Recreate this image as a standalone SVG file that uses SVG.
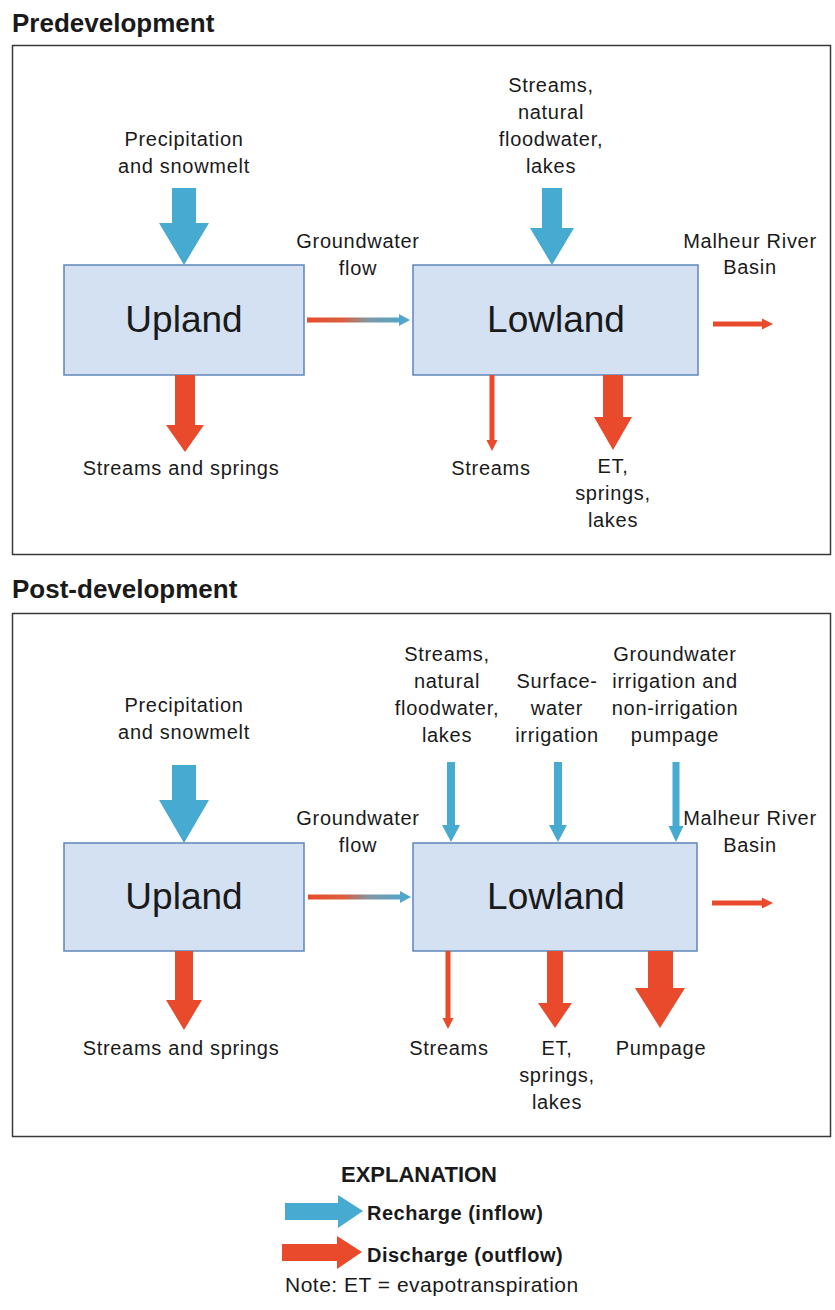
<svg xmlns="http://www.w3.org/2000/svg" width="835" height="1310" viewBox="0 0 835 1310">
<style>
.panel{fill:#fff;stroke:#3a3a3a;stroke-width:1.5}
.title{font-family:"Liberation Sans",Arial,sans-serif;font-weight:bold;font-size:26px;fill:#1a1a1a}
.lbl{font-family:"Liberation Sans",Arial,sans-serif;font-size:20px;letter-spacing:0.7px;fill:#1a1a1a;text-anchor:middle}
.box{fill:#d3e1f3;stroke:#5f86b8;stroke-width:1.5}
.boxt{font-family:"Liberation Sans",Arial,sans-serif;font-size:37px;fill:#1a1a1a;text-anchor:middle}
.in{fill:#47aad0}
.out{fill:#e84a2b}
.leg{font-family:"Liberation Sans",Arial,sans-serif;font-weight:bold;font-size:20px;letter-spacing:0.5px;fill:#1a1a1a}
</style>
<defs>
<linearGradient id="gw" x1="0" y1="0" x2="1" y2="0">
<stop offset="0" stop-color="#e84a2b"/>
<stop offset="0.35" stop-color="#d9603f"/>
<stop offset="0.6" stop-color="#7f98a6"/>
<stop offset="1" stop-color="#47aad0"/>
</linearGradient>
</defs>

<g id="predevelopment">
<text class="title" x="12" y="32">Predevelopment</text>
<rect class="panel" x="12.5" y="45.5" width="818" height="509"/>
</g>

<g id="post-development">
<text class="title" x="12" y="598">Post-development</text>
<rect class="panel" x="12.5" y="613.5" width="818" height="523"/>
</g>

<!-- Predevelopment nodes -->
<g id="pre-upland">
<rect class="box" x="64" y="265" width="240" height="110"/>
<text class="boxt" x="184" y="332">Upland</text>
</g>
<g id="pre-lowland">
<rect class="box" x="413" y="265" width="285" height="110"/>
<text class="boxt" x="556" y="332">Lowland</text>
</g>
<g id="pre-labels">
<text class="lbl" x="184" y="146">Precipitation</text>
<text class="lbl" x="184" y="173">and snowmelt</text>
<text class="lbl" x="551" y="92">Streams,</text>
<text class="lbl" x="551" y="119">natural</text>
<text class="lbl" x="551" y="146">floodwater,</text>
<text class="lbl" x="551" y="173">lakes</text>
<text class="lbl" x="358" y="248">Groundwater</text>
<text class="lbl" x="358" y="275">flow</text>
<text class="lbl" x="750" y="248">Malheur River</text>
<text class="lbl" x="750" y="274">Basin</text>
<text class="lbl" x="181" y="475">Streams and springs</text>
<text class="lbl" x="491" y="475">Streams</text>
<text class="lbl" x="613" y="473">ET,</text>
<text class="lbl" x="613" y="500">springs,</text>
<text class="lbl" x="613" y="527">lakes</text>
</g>

<!-- Post-development nodes -->
<g id="post-upland">
<rect class="box" x="64" y="843" width="240" height="108"/>
<text class="boxt" x="184" y="909">Upland</text>
</g>
<g id="post-lowland">
<rect class="box" x="413" y="843" width="284" height="108"/>
<text class="boxt" x="556" y="909">Lowland</text>
</g>
<g id="post-labels">
<text class="lbl" x="184" y="712">Precipitation</text>
<text class="lbl" x="184" y="739">and snowmelt</text>
<text class="lbl" x="447" y="661">Streams,</text>
<text class="lbl" x="447" y="688">natural</text>
<text class="lbl" x="447" y="715">floodwater,</text>
<text class="lbl" x="447" y="742">lakes</text>
<text class="lbl" x="557" y="688">Surface-</text>
<text class="lbl" x="557" y="715">water</text>
<text class="lbl" x="557" y="742">irrigation</text>
<text class="lbl" x="675" y="661">Groundwater</text>
<text class="lbl" x="675" y="688">irrigation and</text>
<text class="lbl" x="675" y="715">non-irrigation</text>
<text class="lbl" x="675" y="742">pumpage</text>
<text class="lbl" x="358" y="825">Groundwater</text>
<text class="lbl" x="358" y="852">flow</text>
<text class="lbl" x="750" y="825">Malheur River</text>
<text class="lbl" x="750" y="852">Basin</text>
<text class="lbl" x="181" y="1055">Streams and springs</text>
<text class="lbl" x="449" y="1055">Streams</text>
<text class="lbl" x="557" y="1055">ET,</text>
<text class="lbl" x="557" y="1082">springs,</text>
<text class="lbl" x="557" y="1109">lakes</text>
<text class="lbl" x="661" y="1055">Pumpage</text>
</g>

<g id="connectors">
<!-- Predevelopment -->
<polygon class="in" points="172,188 196,188 196,223 209,223 184,265 159,223 172,223"/>
<polygon class="in" points="542,188 562,188 562,228 574,228 552,265 530,228 542,228"/>
<polygon class="out" points="175,375 195,375 195,425 204,425 185,452 166,425 175,425"/>
<polygon class="out" points="489.5,375 494.5,375 494.5,440 497.5,440 492,451 486.5,440 489.5,440"/>
<polygon class="out" points="603,375 623,375 623,417 632,417 613,450 594,417 603,417"/>
<polygon fill="url(#gw)" points="307,317.5 399,317.5 399,314 410,320 399,326 399,322.5 307,322.5"/>
<polygon class="out" points="713,321.5 762,321.5 762,318.5 773,324 762,329.5 762,326.5 713,326.5"/>
<!-- Post-development -->
<polygon class="in" points="172,765 196,765 196,800 209,800 184,843 159,800 172,800"/>
<polygon class="in" points="447,762 455,762 455,825 460,825 451,842 442,825 447,825"/>
<polygon class="in" points="554,762 562,762 562,825 567,825 558,842 549,825 554,825"/>
<polygon class="in" points="672.5,762 679.5,762 679.5,826 683.5,826 676,842 668.5,826 672.5,826"/>
<polygon class="out" points="175,951 193,951 193,1000 202,1000 184,1030 166,1000 175,1000"/>
<polygon class="out" points="445.5,951 450.5,951 450.5,1018 453.5,1018 448,1029 442.5,1018 445.5,1018"/>
<polygon class="out" points="547,951 563,951 563,1003 572,1003 555,1028 538,1003 547,1003"/>
<polygon class="out" points="648,951 673,951 673,988 685,988 660,1028 635,988 648,988"/>
<polygon fill="url(#gw)" points="308,894.5 400,894.5 400,891 411,897 400,903 400,899.5 308,899.5"/>
<polygon class="out" points="712,900.5 762,900.5 762,897.5 773,903 762,908.5 762,905.5 712,905.5"/>
</g>

<g id="legend">
<text x="419" y="1182" text-anchor="middle" style="font-family:'Liberation Sans',Arial,sans-serif;font-weight:bold;font-size:22px;fill:#1a1a1a">EXPLANATION</text>
<polygon class="in" points="285,1203 338,1203 338,1195 363,1211 338,1228 338,1220 285,1220"/>
<text class="leg" x="367" y="1220">Recharge (inflow)</text>
<polygon class="out" points="282,1244 337,1244 337,1236 362,1252 337,1269 337,1261 282,1261"/>
<text class="leg" x="367" y="1262">Discharge (outflow)</text>
<text x="285" y="1292" style="font-family:'Liberation Sans',Arial,sans-serif;font-size:21px;letter-spacing:0.5px;fill:#1a1a1a">Note: ET = evapotranspiration</text>
</g>
</svg>
